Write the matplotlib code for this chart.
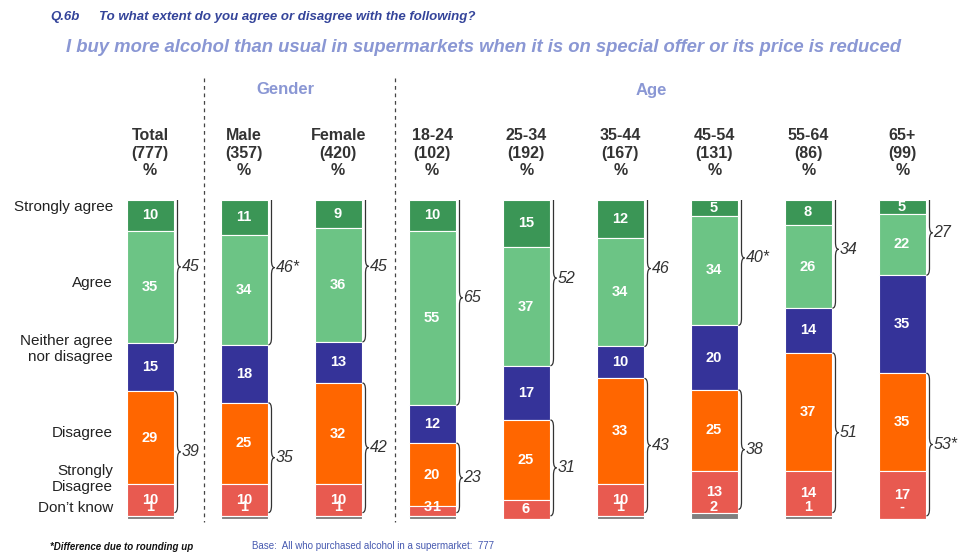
import numpy as np
import matplotlib.pyplot as plt
from matplotlib.path import Path
from matplotlib.patches import PathPatch
from matplotlib.lines import Line2D

plt.rcParams['font.family'] = ['Liberation Sans', 'DejaVu Sans']

# column headers and base sizes
groups = ['Total', 'Male', 'Female', '18-24', '25-34', '35-44', '45-54', '55-64', '65+']
bases = [777, 357, 420, 102, 192, 167, 131, 86, 99]

# answers, top to bottom in each bar
strongly_agree = [10, 11, 9, 10, 15, 12, 5, 8, 5]
agree = [35, 34, 36, 55, 37, 34, 34, 26, 22]
neither = [15, 18, 13, 12, 17, 10, 20, 14, 35]
disagree = [29, 25, 32, 20, 25, 33, 25, 37, 35]
strongly_disagree = [10, 10, 10, 3, 6, 10, 13, 14, 17]
dont_know = [1, 1, 1, 1, 0, 1, 2, 1, 0]

# net scores shown next to the braces
net_agree = ['45', '46*', '45', '65', '52', '46', '40*', '34', '27']
net_disagree = ['39', '35', '42', '23', '31', '43', '38', '51', '53*']

colors = ['#3b9656', '#6cc485', '#353399', '#ff6600', '#e85a50', '#7f7f7f']

W, H = 959, 556


def fp(x, y):
    # pixel position -> figure fraction
    return x / W, 1 - y / H


def brace(ax, x, y0, y1, w=0.065, r=2.2):
    ym = (y0 + y1) / 2
    xm = x + w / 2
    verts = [(x, y0), (xm, y0), (xm, y0 + r),
             (xm, ym - r), (xm, ym), (x + w, ym),
             (xm, ym), (xm, ym + r),
             (xm, y1 - r), (xm, y1), (x, y1)]
    codes = [Path.MOVETO, Path.CURVE3, Path.CURVE3,
             Path.LINETO, Path.CURVE3, Path.CURVE3,
             Path.CURVE3, Path.CURVE3,
             Path.LINETO, Path.CURVE3, Path.CURVE3]
    ax.add_patch(PathPatch(Path(verts, codes), fill=False, ec='#333333', lw=0.9))
    return ym


fig = plt.figure(figsize=(W / 100, H / 100), dpi=100)
ax = fig.add_axes([103 / W, (H - 519) / H, 846 / W, 319.5 / H])
ax.set_xlim(-0.5, 8.5)
ax.set_ylim(100, 0)
ax.axis('off')

series = np.array([strongly_agree, agree, neither, disagree, strongly_disagree, dont_know], dtype=float)
totals = series.sum(axis=0)
shares = series / totals * 100
tops = np.vstack([np.zeros(len(groups)), np.cumsum(shares, axis=0)[:-1]])
x = np.arange(len(groups))

for k in range(len(series)):
    ax.bar(x, shares[k], bottom=tops[k], width=0.5, color=colors[k],
           edgecolor='white', linewidth=0.8)

for i in range(len(groups)):
    for k in range(5):
        h = shares[k, i]
        yc = tops[k, i] + h / 2
        dx = 0
        if k == 4 and h < 5:
            yc = 96.3
            dx = -0.045
        ax.text(i + dx, yc, str(int(series[k, i])), ha='center', va='center',
                color='white', fontsize=10.5, fontweight='bold')
    dk = '-' if dont_know[i] == 0 else str(dont_know[i])
    dx = 0.045 if shares[4, i] < 5 else 0
    ax.text(i + dx, 96.3, dk, ha='center', va='center', color='white',
            fontsize=10.5, fontweight='bold')

    bx = i + 0.26
    ym = brace(ax, bx, -2.8, tops[2, i])
    ax.text(bx + 0.075, ym, net_agree[i], ha='left', va='center',
            fontsize=11.5, style='italic', color='#333333')
    ym = brace(ax, bx, tops[3, i], tops[5, i] - 1)
    ax.text(bx + 0.075, ym, net_disagree[i], ha='left', va='center',
            fontsize=11.5, style='italic', color='#333333')

# headers
for i, (g, n) in enumerate(zip(groups, bases)):
    xp = 150 + 94.05 * i
    fig.text(*fp(xp, 153), f'{g}\n({n})\n%', ha='center', va='center',
             fontsize=11.5, fontweight='bold', color='#333333', linespacing=1.2)

fig.text(*fp(285, 90), 'Gender', ha='center', va='center', fontsize=12,
         fontweight='bold', color='#8a97d4')
fig.text(*fp(651, 90), 'Age', ha='center', va='center', fontsize=12,
         fontweight='bold', color='#8a97d4')

for xp in [204, 395]:
    fig.add_artist(Line2D([xp / W, xp / W], [1 - 78 / H, 1 - 522 / H],
                          transform=fig.transFigure, color='#444444', lw=0.9,
                          linestyle=(0, (3, 3))))

# row labels
row_labels = [('Strongly agree', 207), ('Agree', 283),
              ('Neither agree\nnor disagree', 349), ('Disagree', 433),
              ('Strongly\nDisagree', 479), ("Don\u2019t know", 508)]
for txt, yp in row_labels:
    fig.text(*fp(113, yp), txt, ha='right', va='center', fontsize=11,
             color='#222222', linespacing=1.15)

# titles
fig.text(*fp(50, 17), 'Q.6b', ha='left', va='center', fontsize=9.5,
         fontweight='bold', style='italic', color='#34449a')
fig.text(*fp(99, 17), 'To what extent do you agree or disagree with the following?',
         ha='left', va='center', fontsize=9.5, fontweight='bold', style='italic',
         color='#34449a')
fig.text(*fp(483, 48), 'I buy more alcohol than usual in supermarkets when it is on '
         'special offer or its price is reduced', ha='center', va='center',
         fontsize=13.3, fontweight='bold', style='italic', color='#8a97d4')

# footer
fig.text(*fp(50, 547), '*Difference due to rounding up', ha='left', va='center',
         fontsize=7, fontweight='bold', style='italic', color='#111111')
fig.text(*fp(252, 546), 'Base:  All who purchased alcohol in a supermarket:  777',
         ha='left', va='center', fontsize=7, color='#4659b0')

fig.savefig('out.png', dpi=100)
